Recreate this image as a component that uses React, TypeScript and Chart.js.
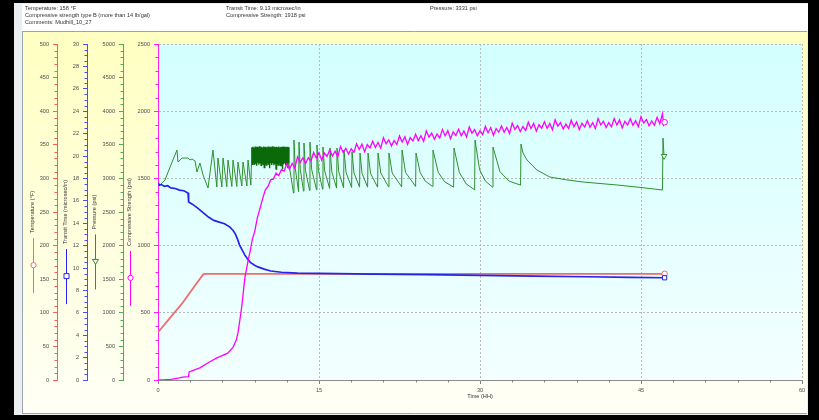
import React, { useEffect, useRef } from 'react';
import { Chart, registerables } from 'chart.js';

Chart.register(...registerables);

const FONT = '"Liberation Sans", Arial, sans-serif';
const FS = 5.6;

// ---------- header texts ----------
const headerLeft = ['Temperature: 158 °F', 'Compressive strength type B (more than 14 lb/gal)', 'Comments: Mudhill_10_27'];
const headerMid = ['Transit Time: 9.13 microsec/in', 'Compressive Strength: 1918 psi'];
const headerRight = ['Pressure: 3331 psi'];

const xTitle = 'Time (HH)';
const titleTemp = 'Temperature (°F)';
const titleTransit = 'Transit Time (microsec/in)';
const titlePressure = 'Pressure (psi)';
const titleStrength = 'Compressive Strength (psi)';

// ---------- data: [time (h), value] ----------
const temperature: [number, number][] = [
  [0, 71], [1.1, 92], [2.3, 115], [3.2, 135], [4.2, 157], [4.35, 158], [20, 158], [47.2, 158],
];

const transitTime: [number, number][] = [
  [0, 17.6], [0.15, 17.4], [0.3, 17.45], [0.6, 17.3], [0.9, 17.35], [1.2, 17.15], [1.6, 17.1],
  [2.0, 16.95], [2.4, 16.9], [2.8, 16.7], [2.85, 15.9], [3.2, 15.7], [3.7, 15.35], [4.2, 14.95],
  [4.7, 14.55], [5.2, 14.25], [5.7, 14.1], [6.2, 13.95], [6.7, 13.65], [7.0, 13.35], [7.2, 13.05],
  [7.4, 12.6], [7.6, 12.05], [7.85, 11.6], [8.1, 11.15], [8.35, 10.8], [8.6, 10.5], [9.0, 10.25],
  [9.3, 10.1], [9.9, 9.9], [10.5, 9.73], [11.5, 9.62], [13.0, 9.55], [15, 9.52], [20, 9.46],
  [25, 9.4], [30, 9.35], [35, 9.28], [40, 9.22], [44, 9.17], [47.2, 9.13],
];

const pressure: [number, number][] = [
  [0, 2915], [0.2, 2902], [0.65, 2976], [1.2, 3200], [1.77, 3422], [1.86, 3244], [2.24, 3303],
  [2.8, 3303], [2.98, 3274], [3.17, 3288], [3.45, 3259], [3.63, 3095], [3.91, 3229], [4.2, 3050],
  [4.66, 2857], [5.12, 3422], [5.48, 2872], [5.59, 3303], [5.95, 2872], [6.06, 3303], [6.41, 2875],
  [6.52, 3274], [6.88, 2880], [6.99, 3274], [7.34, 2880], [7.45, 3244], [7.81, 2887], [7.92, 3244],
  [8.28, 2887], [8.39, 3274], [8.65, 2900],
  [8.75, 3460], [8.80, 3210], [8.85, 3470], [8.90, 3230], [8.95, 3455], [9.00, 3200], [9.05, 3475],
  [9.10, 3220], [9.15, 3465], [9.20, 3190], [9.25, 3470], [9.30, 3235], [9.35, 3460], [9.40, 3205],
  [9.45, 3478], [9.50, 3225], [9.55, 3462], [9.60, 3195], [9.65, 3472], [9.70, 3230], [9.75, 3458],
  [9.80, 3210], [9.85, 3476], [9.90, 3160], [9.95, 3466], [10.00, 3220], [10.05, 3470], [10.10, 3200],
  [10.15, 3460], [10.20, 3235], [10.25, 3474], [10.30, 3205], [10.35, 3465], [10.40, 3150], [10.45, 3470],
  [10.50, 3225], [10.55, 3460], [10.60, 3200], [10.65, 3478], [10.70, 3230], [10.75, 3462], [10.80, 3195],
  [10.85, 3470], [10.90, 3215], [10.95, 3458], [11.00, 3140], [11.05, 3472], [11.10, 3225], [11.15, 3464],
  [11.20, 3200], [11.25, 3476], [11.30, 3230], [11.35, 3460], [11.40, 3190], [11.45, 3470], [11.50, 3220],
  [11.55, 3466], [11.60, 3135], [11.65, 3474], [11.70, 3210], [11.75, 3462], [11.80, 3225], [11.85, 3470],
  [11.90, 3195], [11.95, 3458], [12.00, 3215], [12.05, 3472], [12.10, 3150], [12.15, 3465], [12.20, 3220],
  [12.62, 2783], [12.67, 3571], [12.79, 3150], [13.10, 2800], [13.14, 3541], [13.26, 3130], [13.56, 2810],
  [13.60, 3527], [13.74, 3120], [14.12, 2820], [14.16, 3541], [14.32, 3130], [14.77, 2830], [14.81, 3497],
  [14.95, 3120], [15.33, 2840], [15.37, 3467], [15.53, 3110], [15.99, 2850], [16.03, 3452], [16.19, 3100],
  [16.64, 2855], [16.68, 3452], [16.84, 3100], [17.29, 2860], [17.33, 3422], [17.52, 3090], [18.04, 2865],
  [18.08, 3393], [18.26, 3080], [18.78, 2870], [18.82, 3378], [19.01, 3075], [19.53, 2870], [19.57, 3378],
  [19.80, 3075], [20.46, 2870], [20.50, 3378], [20.76, 3080], [21.48, 2875], [21.52, 3378], [21.82, 3080],
  [22.70, 2875], [22.74, 3422], [23.06, 3090], [24.00, 2880], [24.04, 3378], [24.43, 3085], [24.9, 2960],
  [25.58, 2880], [25.62, 3422], [26.11, 3090], [26.7, 2950], [27.54, 2870], [27.58, 3452], [28.07, 3090],
  [28.7, 2920], [29.50, 2830], [29.54, 3571], [29.96, 3130], [30.5, 2960], [31.17, 2870], [31.21, 3467],
  [31.86, 3100], [32.7, 2960], [33.78, 2900], [33.82, 3512], [34.0, 3380], [34.38, 3274], [35.3, 3125],
  [36.5, 3021], [38, 2980], [39.6, 2946], [42.77, 2902], [45, 2865], [47.0, 2827], [47.05, 3600], [47.15, 3331],
];

const compressiveStrength: [number, number][] = [
  [0, 0], [0.5, 0], [1.2, 5], [2.0, 15], [2.3, 22], [2.85, 25], [2.9, 60], [3.4, 75], [3.9, 90],
  [4.7, 130], [5.5, 165], [6.5, 200], [7.0, 245], [7.3, 300], [7.45, 350], [7.6, 430], [7.8, 545],
  [8.1, 765], [8.4, 890], [8.6, 965], [8.8, 1050],
  [9.0, 1100], [9.25, 1205], [9.5, 1275], [9.75, 1350], [10.0, 1415], [10.25, 1440], [10.5, 1490],
  [10.75, 1495], [11.0, 1540], [11.25, 1520], [11.5, 1565], [11.75, 1555],
  [12.00, 1608], [12.25, 1568], [12.50, 1612], [12.75, 1576], [13.00, 1660], [13.25, 1619], [13.50, 1652],
  [13.75, 1611], [14.00, 1654], [14.25, 1628], [14.50, 1693], [14.75, 1651], [15.00, 1692], [15.25, 1636],
  [15.50, 1688], [15.75, 1663], [16.00, 1713], [16.25, 1666], [16.50, 1703], [16.75, 1660], [17.00, 1737],
  [17.25, 1694], [17.50, 1724], [17.75, 1681], [18.00, 1721], [18.25, 1694], [18.50, 1758], [18.75, 1715],
  [19.00, 1755], [19.25, 1699], [19.50, 1751], [19.75, 1726], [20.00, 1776], [20.25, 1730], [20.50, 1768],
  [20.75, 1725], [21.00, 1803], [21.25, 1758], [21.50, 1787], [21.75, 1742], [22.00, 1781], [22.25, 1752],
  [22.50, 1816], [22.75, 1771], [23.00, 1810], [23.25, 1753], [23.50, 1804], [23.75, 1779], [24.00, 1828],
  [24.25, 1781], [24.50, 1818], [24.75, 1775], [25.00, 1852], [25.25, 1807], [25.50, 1837], [25.75, 1792],
  [26.00, 1831], [26.25, 1801], [26.50, 1863], [26.75, 1817], [27.00, 1855], [27.25, 1796], [27.50, 1846],
  [27.75, 1819], [28.00, 1866], [28.25, 1817], [28.50, 1853], [28.75, 1808], [29.00, 1883], [29.25, 1837],
  [29.50, 1864], [29.75, 1818], [30.00, 1855], [30.25, 1825], [30.50, 1887], [30.75, 1840], [31.00, 1878],
  [31.25, 1820], [31.50, 1870], [31.75, 1843], [32.00, 1891], [32.25, 1843], [32.50, 1879], [32.75, 1834],
  [33.00, 1910], [33.25, 1865], [33.50, 1893], [33.75, 1848], [34.00, 1886], [34.25, 1856], [34.50, 1918],
  [34.75, 1871], [35.00, 1909], [35.25, 1851], [35.50, 1901], [35.75, 1874], [36.00, 1922], [36.25, 1873],
  [36.50, 1908], [36.75, 1862], [37.00, 1937], [37.25, 1889], [37.50, 1916], [37.75, 1868], [38.00, 1904],
  [38.25, 1872], [38.50, 1933], [38.75, 1885], [39.00, 1921], [39.25, 1862], [39.50, 1910], [39.75, 1883],
  [40.00, 1929], [40.25, 1880], [40.50, 1915], [40.75, 1870], [41.00, 1945], [41.25, 1898], [41.50, 1925],
  [41.75, 1878], [42.00, 1915], [42.25, 1884], [42.50, 1945], [42.75, 1898], [43.00, 1935], [43.25, 1876],
  [43.50, 1925], [43.75, 1897], [44.00, 1944], [44.25, 1895], [44.50, 1930], [44.75, 1884], [45.00, 1959],
  [45.25, 1912], [45.50, 1938], [45.75, 1891], [46.00, 1927], [46.25, 1895], [46.50, 1955], [46.75, 1907],
  [47.00, 1981], [47.10, 1900], [47.20, 1918],
];

// ---------- axis ranges / ticks ----------
const xRange = { min: 0, max: 60, major: 15, minor: 3 };
const tempRange = { min: 0, max: 500, major: 50, minor: 10 };
const transitRange = { min: 0, max: 30, major: 2, minor: 0.5 };
const pressureRange = { min: 0, max: 5000, major: 500, minor: 100 };
const strengthRange = { min: 0, max: 2500, major: 500, minor: 100 };
const denseBand = { from: 8.74, to: 12.21 };

const COL = {
  temp: '#f46a6a', tempAxis: '#ff5c5c',
  tt: '#2424ee', ttAxis: '#4d4dff',
  pr: '#2f902f', prDense: '#0a6a0a', prAxis: '#4fae4f',
  cs: '#ff00ff', csAxis: '#ff20ff',
  grid: '#b9b9b9', tick: '#4d4d4d', text: '#333333',
};

const AXW: Record<string, number> = { temp: 34, tt: 30, pr: 36, cs: 35 };
const TITLE_PAD: Record<string, number> = { temp: 7, tt: 6, pr: 5, cs: 4 };

const legendMarks = [
  { id: 'temp', title: titleTemp, color: COL.temp, style: 'circle' },
  { id: 'tt', title: titleTransit, color: COL.tt, style: 'rect' },
  { id: 'pr', title: titlePressure, color: COL.pr, style: 'tri' },
  { id: 'cs', title: titleStrength, color: COL.cs, style: 'circle' },
];

function drawMark(ctx: CanvasRenderingContext2D, style: string, x: number, y: number, color: string) {
  ctx.save();
  ctx.strokeStyle = color;
  ctx.fillStyle = '#ffffff';
  ctx.lineWidth = 1;
  ctx.beginPath();
  if (style === 'circle') ctx.arc(x, y, 2.6, 0, Math.PI * 2);
  else if (style === 'rect') ctx.rect(x - 2.5, y - 2.5, 5, 5);
  else { ctx.moveTo(x - 3, y - 2); ctx.lineTo(x + 3, y - 2); ctx.lineTo(x, y + 3); ctx.closePath(); }
  ctx.fill();
  ctx.stroke();
  ctx.restore();
}

const isMajor = (v: number, major: number) => Math.abs(v / major - Math.round(v / major)) < 1e-6;

const framePlugin = {
  id: 'frame',
  beforeDraw(chart: any) {
    const { ctx, chartArea: ca, width, height } = chart;
    ctx.save();
    ctx.fillStyle = '#000';
    ctx.fillRect(0, 0, width, height);
    ctx.fillStyle = '#eceff2';
    ctx.fillRect(14, 3, 794, 412);
    ctx.fillStyle = '#ffffff';
    ctx.fillRect(22, 4, 786, 27);
    let g = ctx.createLinearGradient(0, 32, 0, 413);
    g.addColorStop(0, '#ffffc2');
    g.addColorStop(1, '#fffff7');
    ctx.fillStyle = g;
    ctx.fillRect(23, 32, 784, 381);
    g = ctx.createLinearGradient(0, ca.top, 0, ca.bottom);
    g.addColorStop(0, '#d3ffff');
    g.addColorStop(1, '#f4ffff');
    ctx.fillStyle = g;
    ctx.fillRect(ca.left, ca.top, ca.right - ca.left, ca.bottom - ca.top);
    ctx.strokeStyle = '#9aa4ae';
    ctx.lineWidth = 1;
    ctx.beginPath();
    ctx.moveTo(22, 31.5); ctx.lineTo(807, 31.5);
    ctx.moveTo(22.5, 31); ctx.lineTo(22.5, 414);
    ctx.moveTo(22, 413.5); ctx.lineTo(807, 413.5);
    ctx.stroke();
    // header
    ctx.fillStyle = COL.text;
    ctx.font = `${FS}px ${FONT}`;
    ctx.textBaseline = 'middle';
    ctx.textAlign = 'left';
    headerLeft.forEach((t, i) => ctx.fillText(t, 25, 8.5 + i * 7));
    headerMid.forEach((t, i) => ctx.fillText(t, 226, 8.5 + i * 7));
    headerRight.forEach((t, i) => ctx.fillText(t, 430, 8.5 + i * 7));
    ctx.restore();
  },
  afterDraw(chart: any) {
    const { ctx } = chart;
    ctx.save();
    ctx.lineWidth = 1;
    const ys = [
      { id: 'temp', r: tempRange, c: COL.tempAxis },
      { id: 'tt', r: transitRange, c: COL.ttAxis },
      { id: 'pr', r: pressureRange, c: COL.prAxis },
      { id: 'cs', r: strengthRange, c: COL.csAxis },
    ];
    for (const a of ys) {
      const s = chart.scales[a.id];
      ctx.strokeStyle = a.c;
      ctx.beginPath();
      for (let k = 1; a.r.min + k * a.r.minor < a.r.max + 1e-9; k++) {
        const v = a.r.min + k * a.r.minor;
        if (isMajor(v, a.r.major)) continue;
        const y = Math.round(s.getPixelForValue(v)) + 0.5;
        ctx.moveTo(s.right - 2.5, y);
        ctx.lineTo(s.right, y);
      }
      ctx.stroke();
    }
    const xs = chart.scales.x;
    ctx.strokeStyle = '#808080';
    ctx.beginPath();
    for (let k = 1; k * xRange.minor < xRange.max; k++) {
      const v = k * xRange.minor;
      if (isMajor(v, xRange.major)) continue;
      const x = Math.round(xs.getPixelForValue(v)) + 0.5;
      ctx.moveTo(x, xs.top);
      ctx.lineTo(x, xs.top + 2.5);
    }
    ctx.stroke();
    // legend marks under axis titles
    ctx.font = `${FS}px ${FONT}`;
    for (const m of legendMarks) {
      const s = chart.scales[m.id];
      const x = Math.round(s.left + FS / 2 + TITLE_PAD[m.id]) + 0.5;
      const cy = (s.top + s.bottom) / 2;
      const w = ctx.measureText(m.title).width;
      const top = cy + w / 2 + 5;
      ctx.strokeStyle = m.color;
      ctx.beginPath();
      ctx.moveTo(x, top);
      ctx.lineTo(x, top + 55);
      ctx.stroke();
      drawMark(ctx, m.style, x, top + 27, m.color);
    }
    ctx.restore();
  },
};

const endOnly = (r: number) => (c: any) => (c.dataIndex === c.dataset.data.length - 1 ? r : 0);
const toXY = (arr: [number, number][]) => arr.map(([x, y]) => ({ x, y }));

function yAxis(id: string, title: string, r: any, color: string, weight: number, onArea: boolean) {
  return {
    type: 'linear',
    position: 'left',
    min: r.min,
    max: r.max,
    weight,
    ticks: {
      stepSize: r.major,
      autoSkip: false,
      color: COL.tick,
      padding: 4,
      font: { size: FS, family: FONT },
      callback: (v: any) => String(v),
    },
    grid: {
      drawOnChartArea: onArea,
      color: onArea ? (c: any) => (c.tick && c.tick.value === 0 ? 'transparent' : COL.grid) : color,
      tickColor: color,
      tickLength: 4,
    },
    border: { color, width: 1, dash: onArea ? [2, 2] : [] },
    title: {
      display: true,
      text: title,
      color: COL.text,
      font: { size: FS, family: FONT, lineHeight: 1 },
      padding: { top: TITLE_PAD[id], bottom: 0 },
    },
    afterFit: (s: any) => { s.width = AXW[id]; },
  };
}

export default function App() {
  const ref = useRef<HTMLCanvasElement | null>(null);
  useEffect(() => {
    if (!ref.current) return;
    const chart = new Chart(ref.current, {
      type: 'line',
      data: {
        datasets: [
          {
            label: 'Compressive Strength', data: toXY(compressiveStrength), yAxisID: 'cs',
            borderColor: COL.cs, borderWidth: 1.3, pointRadius: endOnly(2.8), pointStyle: 'circle',
            pointBorderColor: COL.cs, pointBackgroundColor: '#ffffff', pointBorderWidth: 1, tension: 0,
          },
          {
            label: 'Transit Time', data: toXY(transitTime), yAxisID: 'tt',
            borderColor: COL.tt, borderWidth: 1.7, pointRadius: endOnly(3), pointStyle: 'rect',
            pointBorderColor: COL.tt, pointBackgroundColor: '#ffffff', pointBorderWidth: 1, tension: 0,
          },
          {
            label: 'Pressure', data: toXY(pressure), yAxisID: 'pr',
            borderColor: COL.pr, borderWidth: 1, pointRadius: endOnly(3.2), pointStyle: 'triangle', pointRotation: 180,
            pointBorderColor: COL.pr, pointBackgroundColor: '#ffffff', pointBorderWidth: 1, tension: 0,
            segment: {
              borderColor: (c: any) =>
                c.p0.parsed.x >= denseBand.from && c.p1.parsed.x <= denseBand.to ? COL.prDense : undefined,
              borderWidth: (c: any) =>
                c.p0.parsed.x >= denseBand.from && c.p1.parsed.x <= denseBand.to ? 1.4 : undefined,
            },
          },
          {
            label: 'Temperature', data: toXY(temperature), yAxisID: 'temp',
            borderColor: COL.temp, borderWidth: 1.8, pointRadius: endOnly(2.8), pointStyle: 'circle',
            pointBorderColor: COL.temp, pointBackgroundColor: '#ffffff', pointBorderWidth: 1, tension: 0,
          },
        ],
      },
      options: {
        responsive: false,
        devicePixelRatio: 1,
        animation: false,
        events: [],
        layout: { padding: { left: 23, top: 44, right: 17, bottom: 0 } },
        plugins: { legend: { display: false }, tooltip: { enabled: false }, title: { display: false } },
        scales: {
          x: {
            type: 'linear',
            position: 'bottom',
            min: xRange.min,
            max: xRange.max,
            ticks: {
              stepSize: xRange.major, autoSkip: false, maxRotation: 0, color: COL.tick, padding: 3,
              font: { size: FS, family: FONT }, callback: (v: any) => String(v),
            },
            grid: {
              color: (c: any) => (c.tick && c.tick.value === 0 ? 'transparent' : COL.grid),
              tickColor: '#808080',
              tickLength: 4,
            },
            border: { color: '#8c8c8c', width: 1, dash: [2, 2] },
            title: {
              display: true, text: xTitle, color: COL.text,
              font: { size: FS, family: FONT, lineHeight: 1 }, padding: { top: 0, bottom: 21 },
            },
            afterFit: (s: any) => { s.height = 40; },
          },
          temp: yAxis('temp', titleTemp, tempRange, COL.tempAxis, 4, false),
          tt: yAxis('tt', titleTransit, transitRange, COL.ttAxis, 3, false),
          pr: yAxis('pr', titlePressure, pressureRange, COL.prAxis, 2, false),
          cs: yAxis('cs', titleStrength, strengthRange, COL.csAxis, 1, true),
        },
      } as any,
      plugins: [framePlugin],
    });
    return () => chart.destroy();
  }, []);
  return (
    <div style={{ position: 'fixed', left: 0, top: 0, width: 819, height: 420 }}>
      <canvas ref={ref} width={819} height={420} style={{ display: 'block', width: 819, height: 420 }} />
    </div>
  );
}
